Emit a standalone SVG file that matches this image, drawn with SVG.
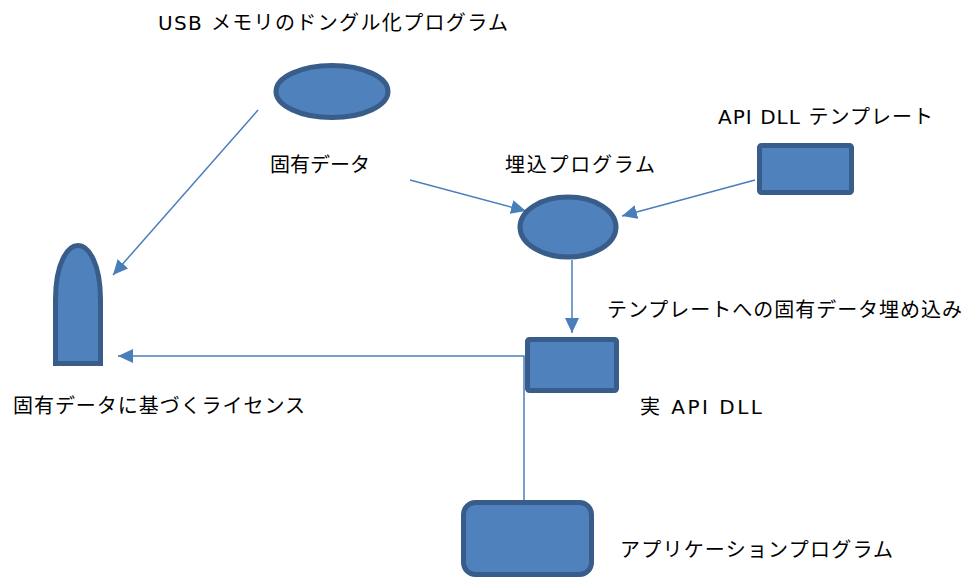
<svg xmlns="http://www.w3.org/2000/svg" width="968" height="577" viewBox="0 0 968 577">
<style>
.shape{fill:#4F81BD;stroke:#385D8A;stroke-width:5}
.conn{fill:none;stroke:#4A7EBB;stroke-width:1.5}
.lbl{font-family:"DejaVu Sans","Noto Sans CJK JP",sans-serif;font-size:20px;fill:#000}
</style>
<defs>
<marker id="arr" markerUnits="userSpaceOnUse" markerWidth="16" markerHeight="14" refX="15" refY="7" orient="auto">
<path d="M0,0 L15,7 L0,14 Z" fill="#4A7EBB"/>
</marker>
</defs>
<rect width="968" height="577" fill="#fff"/>
<g id="connectors">
<line class="conn" x1="258" y1="110" x2="113" y2="275" marker-end="url(#arr)"/>
<line class="conn" x1="410" y1="180" x2="526" y2="211" marker-end="url(#arr)"/>
<line class="conn" x1="755" y1="180" x2="622" y2="216" marker-end="url(#arr)"/>
<line class="conn" x1="572" y1="260" x2="572" y2="333" marker-end="url(#arr)"/>
<polyline class="conn" points="524,500 524,356 118,356" marker-end="url(#arr)"/>
</g>
<g id="usb-program">
<ellipse class="shape" cx="332" cy="91.5" rx="56" ry="26"/>
<text class="lbl" x="158" y="30" textLength="350" lengthAdjust="spacing">USB メモリのドングル化プログラム</text>
</g>
<g id="unique-data">
<text class="lbl" x="270" y="172" textLength="100" lengthAdjust="spacing">固有データ</text>
</g>
<g id="embed-program">
<ellipse class="shape" cx="568" cy="227" rx="48" ry="30"/>
<text class="lbl" x="505" y="172" textLength="150" lengthAdjust="spacing">埋込プログラム</text>
</g>
<g id="api-dll-template">
<rect class="shape" x="759.5" y="145.5" width="92" height="47" rx="2"/>
<text class="lbl" x="718" y="124" textLength="215" lengthAdjust="spacing">API DLL テンプレート</text>
</g>
<g id="embed-label">
<text class="lbl" x="607" y="317" textLength="355" lengthAdjust="spacing">テンプレートへの固有データ埋め込み</text>
</g>
<g id="license">
<path class="shape" d="M55.5,363.5 L55.5,300 C55.5,262 68,245.5 78,245.5 C88,245.5 100.5,262 100.5,300 L100.5,363.5 Z"/>
<text class="lbl" x="13" y="413" textLength="292" lengthAdjust="spacing">固有データに基づくライセンス</text>
</g>
<g id="real-api-dll">
<rect class="shape" x="527.5" y="339.5" width="89" height="51" rx="2"/>
<text class="lbl" x="640" y="414" textLength="122" lengthAdjust="spacing">実 API DLL</text>
</g>
<g id="application">
<rect class="shape" x="463.5" y="502.5" width="128" height="72" rx="12"/>
<text class="lbl" x="620" y="557" textLength="273" lengthAdjust="spacing">アプリケーションプログラム</text>
</g>
</svg>
